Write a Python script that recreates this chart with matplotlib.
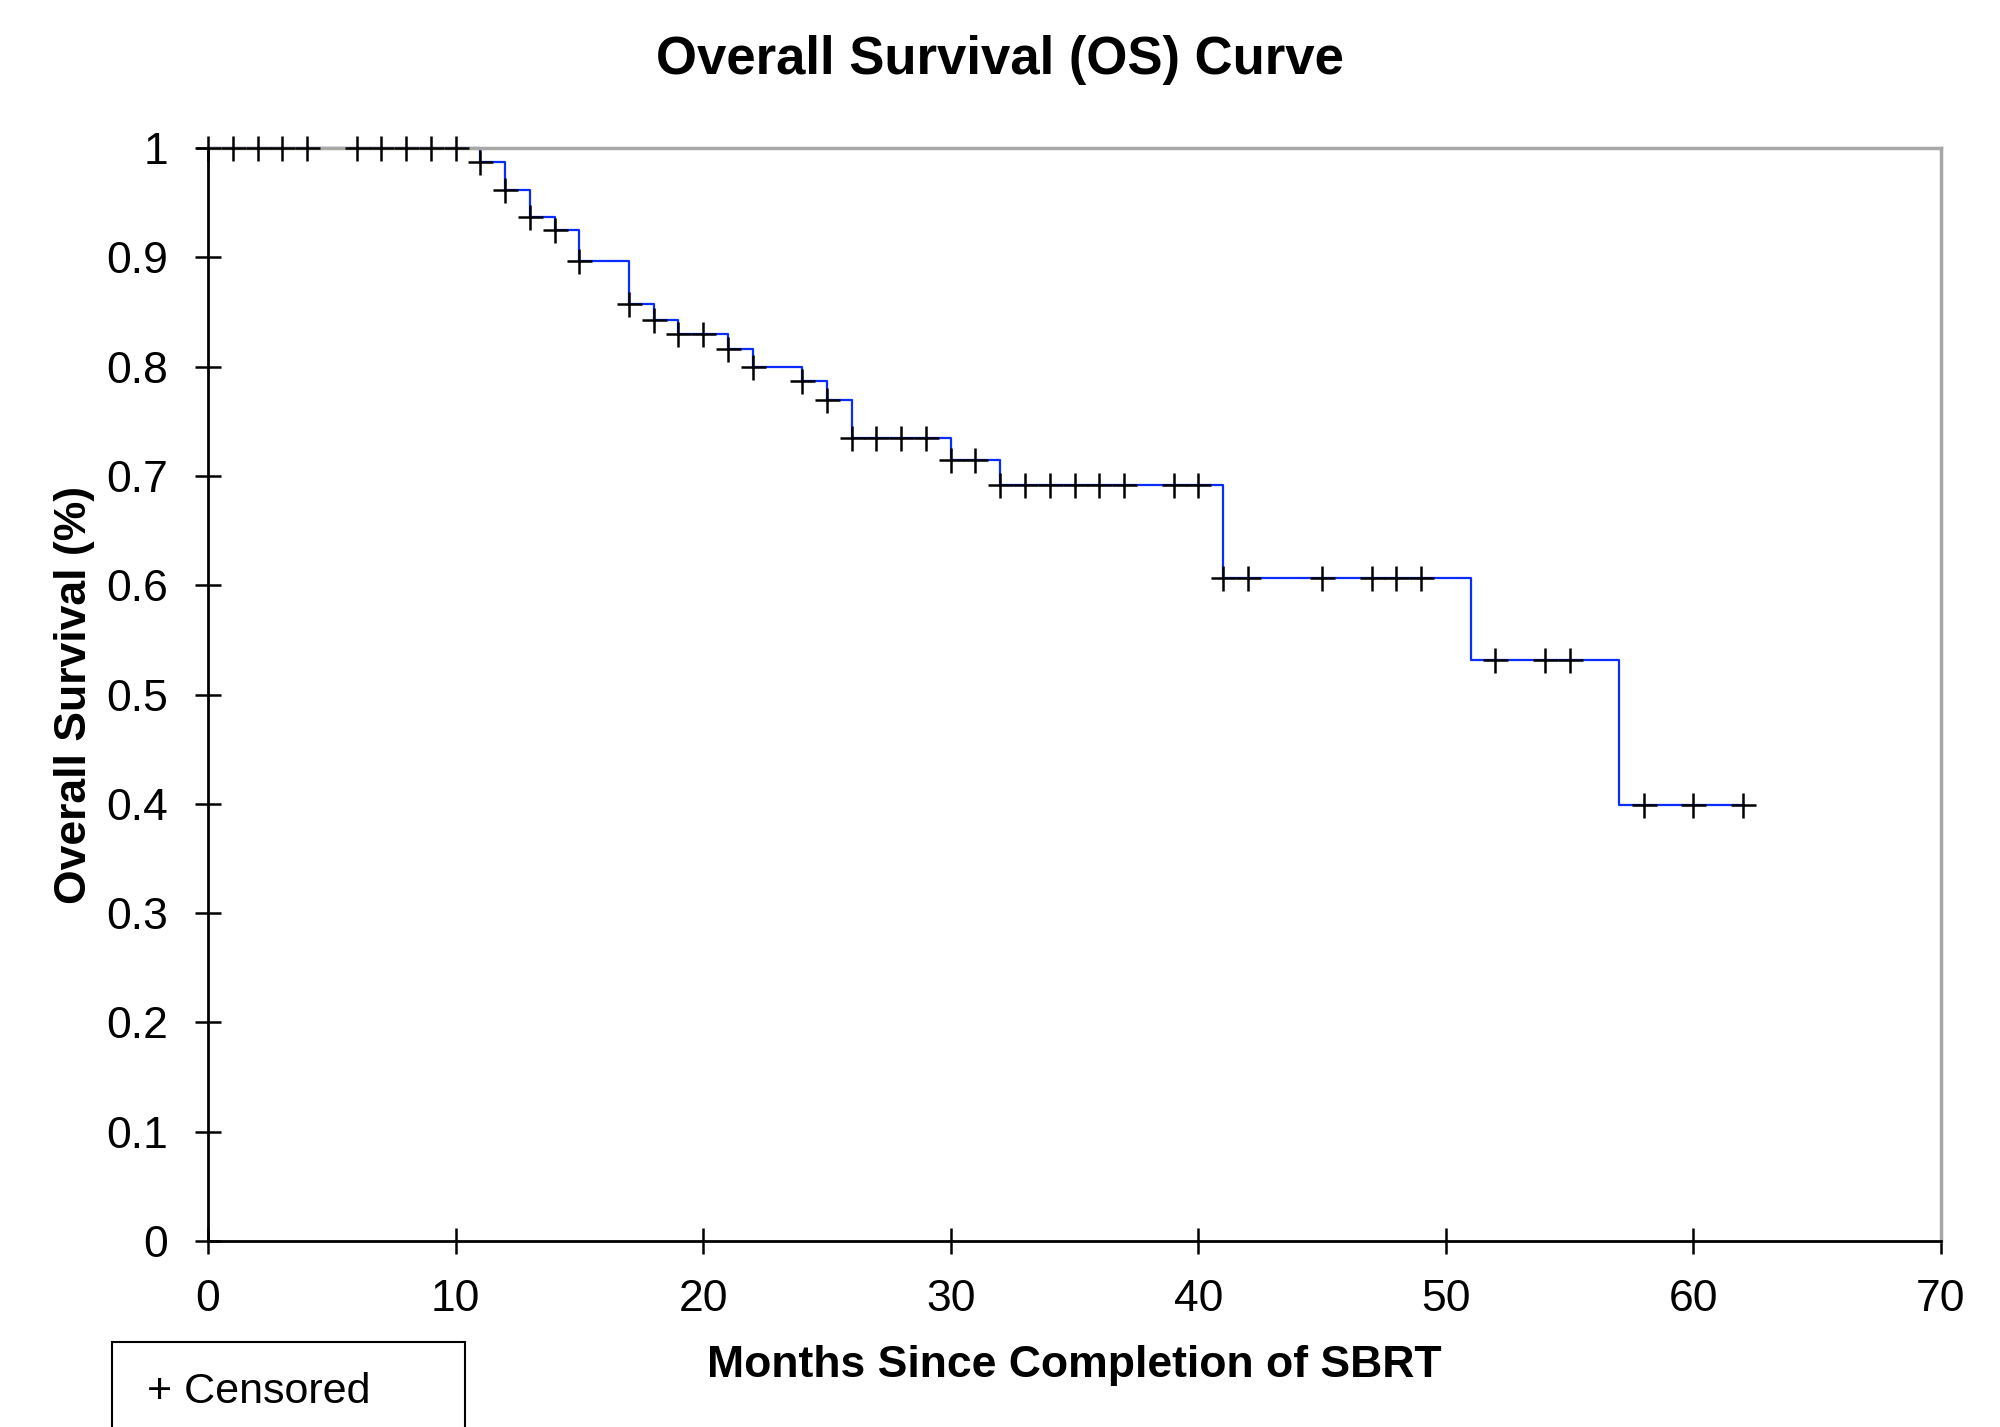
import numpy as np
import matplotlib
matplotlib.use("Agg")
import matplotlib.pyplot as plt
from matplotlib.patches import Rectangle

plt.rcParams['font.family'] = ['Liberation Sans', 'DejaVu Sans']

# Kaplan-Meier step data
event_times = [0, 11, 12, 13, 14, 15, 17, 18, 19, 21, 22, 24, 25, 26, 30, 32, 41, 51, 57]
survival = [1.0, 0.987, 0.962, 0.937, 0.925, 0.897, 0.857, 0.843, 0.830, 0.816,
            0.800, 0.787, 0.769, 0.735, 0.715, 0.692, 0.607, 0.532, 0.399]
last_time = 62

censored_times = [0, 1, 2, 3, 4, 6, 7, 8, 9, 10, 11, 12, 13, 14, 15, 17, 18, 19, 20,
                  21, 22, 24, 25, 26, 27, 28, 29, 30, 31, 32, 33, 34, 35, 36, 37, 39,
                  40, 41, 42, 45, 47, 48, 49, 52, 54, 55, 58, 60, 62]

x_ticks = [0, 10, 20, 30, 40, 50, 60, 70]
y_ticks = [0, 0.1, 0.2, 0.3, 0.4, 0.5, 0.6, 0.7, 0.8, 0.9, 1]
y_tick_labels = ['0', '0.1', '0.2', '0.3', '0.4', '0.5', '0.6', '0.7', '0.8', '0.9', '1']

title = "Overall Survival (OS) Curve"
xlabel = "Months Since Completion of SBRT"
ylabel = "Overall Survival (%)"
legend_text = "+ Censored"

W, H = 2000, 1427
fig = plt.figure(figsize=(W / 100, H / 100), dpi=100)
ax = fig.add_axes([208 / W, 1 - 1241 / H, (1941 - 208) / W, (1241 - 148) / H])

step_x = list(event_times) + [last_time]
step_y = list(survival) + [survival[-1]]
ax.step(step_x, step_y, where='post', color='#0a2dff', lw=1.6, zorder=2,
        clip_on=False)

idx = np.searchsorted(event_times, censored_times, side='right') - 1
cens_y = np.array(survival)[idx]
ax.plot(censored_times, cens_y, linestyle='none', marker='+', color='black',
        markersize=18, markeredgewidth=1.8, zorder=3, clip_on=False)

ax.set_xlim(0, 70)
ax.set_ylim(0, 1)
ax.set_xticks(x_ticks)
ax.set_xticklabels([str(v) for v in x_ticks])
ax.set_yticks(y_ticks)
ax.set_yticklabels(y_tick_labels)

ax.tick_params(axis='both', direction='inout', length=19, width=1.8,
               labelsize=32, colors='black')
ax.tick_params(axis='x', pad=18)
ax.tick_params(axis='y', pad=19)

for s in ['left', 'bottom']:
    ax.spines[s].set_color('black')
    ax.spines[s].set_linewidth(2)
for s in ['top', 'right']:
    ax.spines[s].set_color('#a8a8a8')
    ax.spines[s].set_linewidth(2.5)

fig.text(0.5, 1 - 74 / H, title, ha='center', va='baseline',
         fontsize=38, fontweight='bold')
fig.text((208 + 1941) / 2 / W, 1 - 1377 / H, xlabel, ha='center', va='baseline',
         fontsize=32, fontweight='bold')
fig.text(86 / W, 1 - 694.5 / H, ylabel, ha='center', va='baseline',
         rotation=90, rotation_mode='anchor', fontsize=32, fontweight='bold')

rect = Rectangle((112 / W, -0.05), (465 - 112) / W, 0.05 + (1 - 1342 / H),
                 transform=fig.transFigure, fill=False, edgecolor='black',
                 linewidth=1.5, clip_on=False)
fig.patches.append(rect)
fig.text(147 / W, 1 - 1403 / H, legend_text, ha='left', va='baseline', fontsize=31)

fig.savefig('out.png', dpi=100)
